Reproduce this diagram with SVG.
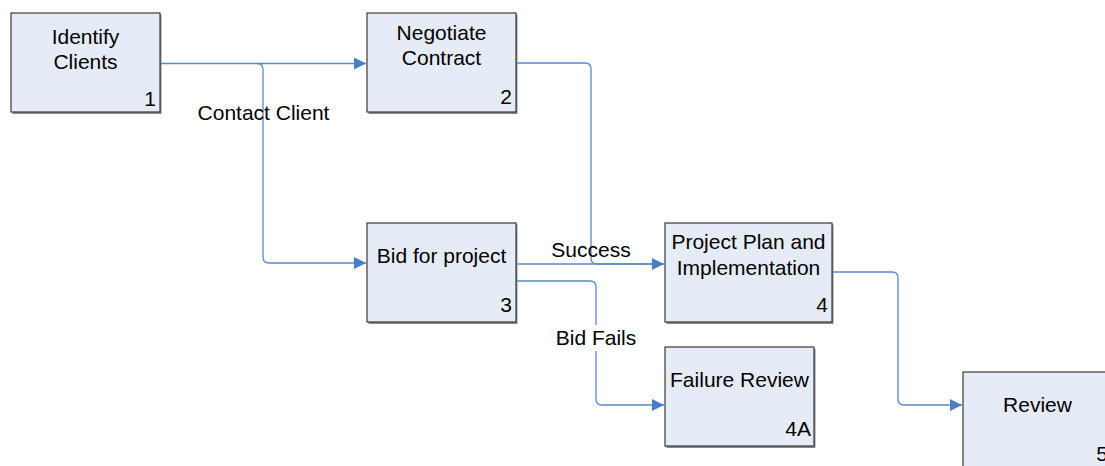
<svg xmlns="http://www.w3.org/2000/svg" width="1105" height="466" viewBox="0 0 1105 466">
<defs>
<style>
.box{fill:#E6ECF7;stroke:#3a3a3a;stroke-width:1.2}
.shadow{fill:#8a8a8a}
.t{font-family:"Liberation Sans",Arial,sans-serif;font-size:21px;fill:#000}
.m{text-anchor:middle}
.e{text-anchor:end}
.c{fill:none;stroke:#5B88C8;stroke-width:1.3}
</style>
<marker id="ah" markerUnits="userSpaceOnUse" markerWidth="12" markerHeight="12" refX="12" refY="6" orient="auto">
<path d="M0,0 L12,6 L0,12 z" fill="#4A7EC4"/>
</marker>
</defs>
<rect width="1105" height="466" fill="#fff"/>
<g id="connectors">
<path class="c" d="M160,63.5 H366" marker-end="url(#ah)"/>
<path class="c" d="M257,63.5 Q263,63.5 263,69.5 V257 Q263,263 269,263 H366" marker-end="url(#ah)"/>
<path class="c" d="M516,63 H585 Q591,63 591,69 V258 Q591,264 597,264 H664"/>
<path class="c" d="M516,264 H664" marker-end="url(#ah)"/>
<path class="c" d="M516,281 H590 Q596,281 596,287 V399 Q596,405 602,405 H664" marker-end="url(#ah)"/>
<path class="c" d="M832,272 H892 Q898,272 898,278 V399 Q898,405 904,405 H962" marker-end="url(#ah)"/>
<text class="t m" x="263.5" y="120">Contact Client</text>
<text class="t m" x="591" y="257">Success</text>
<rect x="552" y="325" width="88" height="26" fill="#fff"/>
<text class="t m" x="596" y="345">Bid Fails</text>
</g>
<g id="n1">
<rect class="shadow" x="12.5" y="14.5" width="149" height="99.5"/>
<rect class="box" x="11" y="13" width="149" height="99"/>
<text class="t m" x="85.5" y="44">Identify</text>
<text class="t m" x="85.5" y="69">Clients</text>
<text class="t e" x="156" y="106">1</text>
</g>
<g id="n2">
<rect class="shadow" x="368.5" y="14.5" width="149" height="99.5"/>
<rect class="box" x="367" y="13" width="149" height="99"/>
<text class="t m" x="441.5" y="40">Negotiate</text>
<text class="t m" x="441.5" y="65">Contract</text>
<text class="t e" x="512" y="104">2</text>
</g>
<g id="n3">
<rect class="shadow" x="368.5" y="224.5" width="149" height="99.5"/>
<rect class="box" x="367" y="223" width="149" height="99"/>
<text class="t m" x="441.5" y="263">Bid for project</text>
<text class="t e" x="512" y="312">3</text>
</g>
<g id="n4">
<rect class="shadow" x="666.5" y="224.5" width="167" height="99.5"/>
<rect class="box" x="665" y="223" width="167" height="99"/>
<text class="t m" x="748.5" y="249">Project Plan and</text>
<text class="t m" x="748.5" y="275">Implementation</text>
<text class="t e" x="828" y="312">4</text>
</g>
<g id="n4A">
<rect class="shadow" x="666.5" y="348.5" width="149" height="99.5"/>
<rect class="box" x="665" y="347" width="149" height="99"/>
<text class="t m" x="739.5" y="387">Failure Review</text>
<text class="t e" x="811" y="436">4A</text>
</g>
<g id="n5">
<rect class="shadow" x="964.5" y="373.5" width="149" height="100"/>
<rect class="box" x="963" y="372" width="149" height="100"/>
<text class="t m" x="1037.5" y="412">Review</text>
<text class="t e" x="1108" y="461">5</text>
</g>
</svg>
